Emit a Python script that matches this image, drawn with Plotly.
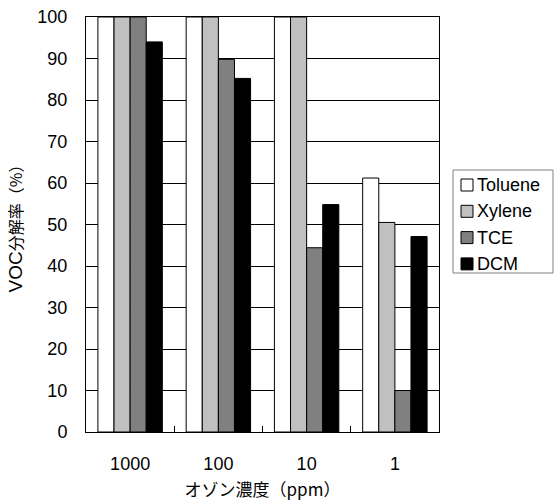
import plotly.graph_objects as go

categories = ["1000", "100", "10", "1"]
series_names = ["Toluene", "Xylene", "TCE", "DCM"]
toluene = [100, 100, 100, 61.2]
xylene = [100, 100, 100, 50.5]
tce = [100, 89.8, 44.4, 10.0]
dcm = [94.0, 85.2, 54.8, 47.1]
colors = ["#FFFFFF", "#C0C0C0", "#808080", "#000000"]

W, H = 554, 501
L, R, T, B = 86, 115, 17, 69
pw, ph = W - L - R, H - T - B


def px_x(x):
    return (x - L) / pw


def px_y(y):
    return (H - B - y) / ph


fig = go.Figure()
for i, (name, vals) in enumerate(zip(series_names, [toluene, xylene, tce, dcm])):
    fig.add_trace(go.Bar(
        x=categories, y=vals, name=name, showlegend=False,
        marker=dict(color=colors[i], line=dict(color="#000000", width=1)),
    ))

# custom legend (layout decoration)
shapes = [dict(type="rect", xref="paper", yref="paper",
               x0=px_x(453), x1=px_x(553), y0=px_y(273), y1=px_y(170),
               line=dict(color="#808080", width=1), fillcolor="white", layer="above")]
annotations = []
for i, name in enumerate(series_names):
    cy = 185 + i * 26.3
    shapes.append(dict(type="rect", xref="paper", yref="paper",
                       x0=px_x(461), x1=px_x(473), y0=px_y(cy + 6), y1=px_y(cy - 6),
                       line=dict(color="#000000", width=1), fillcolor=colors[i],
                       layer="above"))
    annotations.append(dict(xref="paper", yref="paper", x=px_x(475), y=px_y(cy),
                            xanchor="left", yanchor="middle", text=name,
                            showarrow=False, font=dict(size=18)))

font_main = "Liberation Sans, Arial, Noto Sans CJK JP, sans-serif"
fig.update_layout(
    width=W, height=H,
    margin=dict(l=L, r=R, t=T, b=B, autoexpand=False),
    paper_bgcolor="white", plot_bgcolor="white",
    barmode="group", bargap=0.27, bargroupgap=0,
    font=dict(family=font_main, size=18, color="#000000"),
    showlegend=False, hovermode=False,
    shapes=shapes, annotations=annotations,
    xaxis=dict(
        type="category", showline=True, linecolor="#000000", linewidth=1,
        mirror=True, showgrid=False, ticks="inside", tickson="boundaries",
        ticklen=6, tickcolor="#000000", automargin=False,
        ticklabelstandoff=15,
        title=dict(text="オゾン濃度（ppm）", font=dict(size=17, family="Noto Sans CJK JP, Liberation Sans"), standoff=12),
        tickfont=dict(size=18),
    ),
    yaxis=dict(
        range=[0, 100], dtick=10, showline=True, linecolor="#000000",
        linewidth=1, mirror=True, showgrid=True, gridcolor="#000000",
        gridwidth=1, ticks="", zeroline=False, automargin=False,
        ticklabelstandoff=14,
        title=dict(text="<span style='font-family:Liberation Sans;font-size:19px'>VOC</span>分解率（%）",
                   font=dict(size=16, family="Noto Sans CJK JP, Liberation Sans"), standoff=10),
        tickfont=dict(size=18),
    ),
)

fig.write_html("out.html", config={"displayModeBar": False},
               post_script="document.body.style.margin='0';document.body.style.overflow='hidden';")
